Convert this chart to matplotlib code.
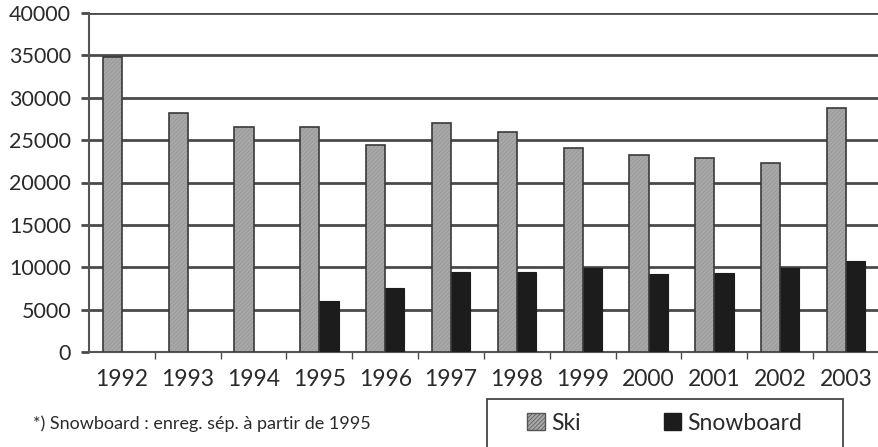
import matplotlib
matplotlib.use("Agg")
import matplotlib.pyplot as plt
import numpy as np
from matplotlib.patches import Patch, Rectangle

years = ["1992", "1993", "1994", "1995", "1996", "1997",
         "1998", "1999", "2000", "2001", "2002", "2003"]
ski = [34800, 28200, 26600, 26600, 24400, 27000,
       25900, 24100, 23200, 22900, 22300, 28800]
# snowboard recorded separately only from 1995
snowboard = [0, 0, 0, 6000, 7600, 9400,
             9400, 9900, 9200, 9300, 9900, 10700]
yticks = [0, 5000, 10000, 15000, 20000, 25000, 30000, 35000, 40000]

TXT = "#2a2a2a"
GRID = "#4a4a4a"
SKI_FILL = "#a8a8a8"
SNOW_FILL = "#1c1c1c"

plt.rcParams["font.family"] = ["Lato", "DejaVu Sans"]
plt.rcParams["hatch.linewidth"] = 0.5

fig = plt.figure(figsize=(8.79, 4.47), dpi=100)
ax = fig.add_axes([89 / 879, 1 - 352 / 447, 790 / 879, 339 / 447])

x = np.arange(len(years))
w = 0.29
off = 0.145

# ski: finely hatched grey fill, then dark outline
ax.bar(x - off, ski, w, color=SKI_FILL, edgecolor="#959595", hatch="////////",
       linewidth=0, zorder=3)
ax.bar(x - off, ski, w, fill=False, edgecolor="#3a3a3a", linewidth=1.2, zorder=4)
ax.bar(x + off, snowboard, w, color=SNOW_FILL, edgecolor=SNOW_FILL,
       linewidth=0.8, zorder=3)

ax.set_xlim(-0.5, len(years) - 0.5)
ax.set_ylim(0, 40000)
ax.set_yticks(yticks)
ax.set_yticklabels([str(v) for v in yticks])
ax.set_xticks(x)
ax.set_xticklabels(years)
ax.set_xticks(x[:-1] + 0.5, minor=True)

ax.yaxis.grid(True, color=GRID, linewidth=2.0, zorder=1)
ax.set_axisbelow(True)

ax.tick_params(axis="y", direction="out", length=6, width=2.0, color=GRID,
               labelsize=15.5, labelcolor=TXT, pad=7)
ax.tick_params(axis="x", which="major", length=0, labelsize=16.5,
               labelcolor=TXT, pad=12)
ax.tick_params(axis="x", which="minor", direction="out", length=5, width=1.0,
               color=GRID)

for side in ["top", "right"]:
    ax.spines[side].set_visible(False)
for side in ["left", "bottom"]:
    ax.spines[side].set_color("#555555")
    ax.spines[side].set_linewidth(1.5)

fig.text(33 / 879, 1 - 424 / 447, "*) Snowboard : enreg. sép. à partir de 1995",
         fontsize=13, color=TXT, va="center", ha="left")

# legend box
fig.patches.append(Rectangle((487 / 879, -0.01), 356 / 879, 1 - 399 / 447 + 0.01,
                             transform=fig.transFigure, fill=False,
                             edgecolor="#444444", linewidth=1.3))
handles = [Patch(facecolor=SKI_FILL, edgecolor="#555555", hatch="////////", label="Ski"),
           Patch(facecolor=SNOW_FILL, edgecolor=SNOW_FILL, label="Snowboard")]
leg = fig.legend(handles=handles, ncol=2, loc="center",
                 bbox_to_anchor=(665 / 879, 1 - 423 / 447),
                 frameon=False, fontsize=16.5,
                 handlelength=0.75, handleheight=0.75, handletextpad=0.3,
                 columnspacing=3.6, labelcolor=TXT)

fig.savefig("out.png", dpi=100)
